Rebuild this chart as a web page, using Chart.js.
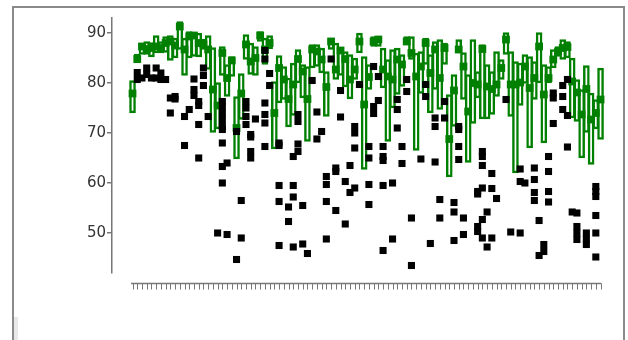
<!DOCTYPE html>
<html>
<head>
<meta charset="utf-8">
<script src="https://cdn.jsdelivr.net/npm/chart.js@4/dist/chart.umd.min.js"></script>
<style>
  html, body { margin: 0; padding: 0; background: #fff; }
  body { width: 628px; height: 340px; overflow: hidden; position: relative; }
  #frame { position: absolute; left: 12px; top: 6px; width: 609px; height: 400px;
           border: 2px solid #8a8a8a; border-bottom: none; }
  #strip { position: absolute; left: 14px; top: 317px; width: 4px; height: 23px; background: #e8e8e8; }
  canvas { position: absolute; left: 0; top: 0; }
</style>
</head>
<body>
<div id="frame"></div>
<div id="strip"></div>
<canvas id="chart" width="628" height="340"></canvas>
<script>
// Box extents (lower / upper edge) and median for each group
const boxLow = [74.0,84.0,85.7,85.7,85.2,86.0,86.0,86.1,84.5,85.0,
  86.7,81.5,85.0,85.3,85.2,86.7,82.7,70.1,70.8,81.5,
  77.3,81.3,64.8,72.7,84.7,81.7,81.5,88.3,83.7,86.8,
  66.8,76.0,76.7,71.2,73.5,80.0,77.0,68.3,83.0,83.3,
  82.0,73.3,86.7,80.7,81.5,79.2,76.8,80.7,86.0,62.7,
  78.7,87.3,87.3,79.0,68.3,75.0,77.7,79.3,87.7,84.7,
  66.5,77.9,83.7,74.0,78.7,74.7,83.7,61.2,71.3,86.0,
  76.7,64.1,71.9,77.0,72.8,72.8,73.7,77.3,80.7,85.7,
  73.3,62.0,75.5,79.9,67.0,76.7,80.0,68.0,80.0,83.0,
  85.3,84.7,85.0,73.0,72.3,65.0,70.1,63.7,70.8,68.7];
const boxHigh = [80.5,85.8,88.0,88.3,88.1,89.5,88.3,89.3,89.5,89.0,
  92.3,89.0,90.3,90.0,90.0,88.8,89.5,87.1,80.1,87.3,
  83.7,85.3,77.3,81.9,89.7,88.0,87.3,90.3,89.0,89.5,
  80.3,85.5,83.3,81.0,84.0,86.7,83.7,83.3,87.7,87.7,
  87.0,82.3,89.0,88.0,87.0,86.3,85.7,85.0,90.0,85.3,
  83.7,89.3,89.3,87.0,84.7,86.7,87.0,85.7,89.3,89.3,
  86.0,86.3,89.0,85.7,88.3,88.7,88.0,77.7,81.7,88.7,
  86.1,81.7,88.7,82.3,87.7,83.7,82.3,86.3,84.7,90.1,
  86.3,84.3,84.0,85.7,85.3,84.3,90.1,83.7,83.3,86.7,
  87.3,88.7,88.3,85.0,80.7,78.7,83.5,78.0,76.7,83.0];
const medians = [77.9,84.8,87.3,86.8,87.0,87.3,87.0,88.0,88.3,87.5,
  91.3,86.7,89.3,89.5,88.0,87.7,86.7,78.7,75.5,86.0,
  81.0,84.5,71.0,77.9,87.7,84.3,85.0,89.5,86.7,88.0,
  74.0,83.0,80.7,76.8,79.7,84.8,82.3,76.8,86.7,86.3,
  84.7,79.2,88.3,82.7,86.5,84.8,80.7,82.7,88.3,75.7,
  81.2,88.3,88.7,82.7,81.3,80.7,84.7,83.7,88.3,86.0,
  81.3,83.3,88.0,82.0,86.7,81.0,87.0,68.8,78.5,86.7,
  83.3,74.3,80.0,79.7,86.8,79.3,78.8,79.7,83.0,88.7,
  79.7,79.7,80.1,83.3,79.0,81.0,87.3,77.7,81.0,84.7,
  86.3,87.0,87.2,80.3,78.1,73.7,78.8,72.7,74.0,76.7];
// Points lying outside each box
const outliers = [
  [], [82.1,80.7], [81.0], [83.0,81.7], [81.0], [83.0,81.0], [82.0,80.7], [80.7], [77.0,74.0], [77.3,76.8],
  [], [73.3,67.5], [74.7], [80.8,78.7,77.5], [76.3,75.5,71.7,65.0], [83.0,81.5,79.5], [73.3], [], [50.0],
  [76.3,75.3,74.0,72.7,71.3,70.7,68.0,63.3,60.0],
  [64.0,49.7], [], [70.3,44.7], [56.5,49.0], [76.3,75.0,73.3,71.7], [66.3,65.0,69.7,69.2], [72.8], [],
  [86.5,84.8,76.0,73.7,72.0,67.3], [81.9,79.5],
  [], [68.0,67.5,59.5,56.3,47.5], [], [55.2,52.3], [65.3,59.5,57.2,47.2], [67.8,66.3,73.7,72.3], [55.5,47.8], [45.9], [80.5], [74.2,68.8],
  [70.3], [61.3,59.7,56.3,48.8], [84.8], [63.0,62.3,54.5], [78.5,73.2], [60.3,51.8], [63.5,58.1], [59.0,71.3,70.0,67.0], [79.7], [],
  [65.0,67.3,59.7,55.7], [83.3,75.3,73.9], [81.3,76.5], [67.3,65.3,64.5,59.5,46.5], [], [60.0,48.8], [76.7,74.7,71.0], [67.3,63.9], [80.7,78.3], [53.0,43.5],
  [], [64.8], [79.7,77.3], [47.9], [73.0,71.3,64.2], [56.7,53.0], [76.3,73.0], [], [56.1,54.2,48.5], [71.3,70.7,67.3,64.7],
  [53.0,49.7], [], [], [58.3,57.8,51.3,50.3], [66.3,65.3,63.5,59.0,52.7,49.0], [54.2,47.2], [61.9,58.9,49.0], [56.9], [], [76.7],
  [50.2], [], [62.8,60.3,50.0], [60.0], [], [63.0,60.7,58.1,56.5], [52.5,45.5], [47.7,46.3], [65.3,62.3,58.3,56.2], [78.0,77.0,71.9],
  [], [79.5,77.3,74.7], [80.7,73.5,67.2], [54.2], [54.0,51.3,50.0,48.7], [], [50.0,48.8,47.7], [], [59.3,58.3,57.3,53.5,50.0,45.2], []
];
const yTickValues = [50, 60, 70, 80, 90];
const categories = boxLow.map((_, i) => i);

const GREEN = 'rgb(0,128,0)';
const AXIS = '#777';

// Category axis drawn a little below the plot, one tick per group
const lowerAxis = {
  id: 'lowerAxis',
  afterDraw(chart) {
    const { ctx, chartArea, scales } = chart;
    const x = scales.x;
    const y0 = chartArea.bottom + 10.5;
    const first = x.getPixelForValue(categories[0]);
    const last = x.getPixelForValue(categories[categories.length - 1]);
    ctx.save();
    ctx.strokeStyle = AXIS;
    ctx.lineWidth = 1.5;
    ctx.beginPath();
    ctx.moveTo(first - 1.5, y0);
    ctx.lineTo(last + 0.8, y0);
    ctx.stroke();
    ctx.lineWidth = 1;
    ctx.beginPath();
    categories.forEach(c => {
      const px = Math.round(x.getPixelForValue(c)) + 0.5;
      ctx.moveTo(px, y0);
      ctx.lineTo(px, y0 + 6);
    });
    ctx.stroke();
    ctx.restore();
  }
};

new Chart(document.getElementById('chart'), {
  type: 'bar',
  data: {
    datasets: [
      {
        type: 'scatter',
        data: categories.flatMap(i => outliers[i].map(v => ({ x: i, y: v }))),
        pointStyle: 'rect',
        pointRadius: 5,
        backgroundColor: '#000',
        borderWidth: 0,
        order: 1
      },
      {
        type: 'scatter',
        data: categories.map(i => ({ x: i, y: medians[i] })),
        pointStyle: 'rect',
        pointRadius: 5.5,
        backgroundColor: GREEN,
        borderWidth: 0,
        order: 2
      },
      {
        type: 'bar',
        data: categories.map(i => ({ x: i, y: [boxLow[i], boxHigh[i]] })),
        backgroundColor: 'rgba(0,0,0,0)',
        borderColor: GREEN,
        borderWidth: 1.8,
        borderSkipped: false,
        barThickness: 6,
        order: 3
      }
    ]
  },
  options: {
    responsive: false,
    animation: false,
    devicePixelRatio: 1,
    layout: { padding: { left: 0, top: 18, right: 18, bottom: 67 } },
    plugins: { legend: { display: false }, tooltip: { enabled: false } },
    scales: {
      x: {
        type: 'linear',
        display: false,
        offset: false,
        min: -4.34,
        max: 101.0
      },
      y: {
        type: 'linear',
        min: 42,
        max: 93,
        beginAtZero: false,
        afterFit(scale) { scale.width = 112; },
        afterBuildTicks(scale) { scale.ticks = yTickValues.map(v => ({ value: v })); },
        grid: { drawOnChartArea: false, drawTicks: true, tickLength: 5, color: AXIS, lineWidth: 1.5 },
        border: { display: true, color: AXIS, width: 1.5 },
        ticks: {
          color: '#333',
          padding: 1,
          font: { family: 'DejaVu Sans', size: 15 }
        }
      }
    }
  },
  plugins: [lowerAxis]
});
</script>
</body>
</html>
